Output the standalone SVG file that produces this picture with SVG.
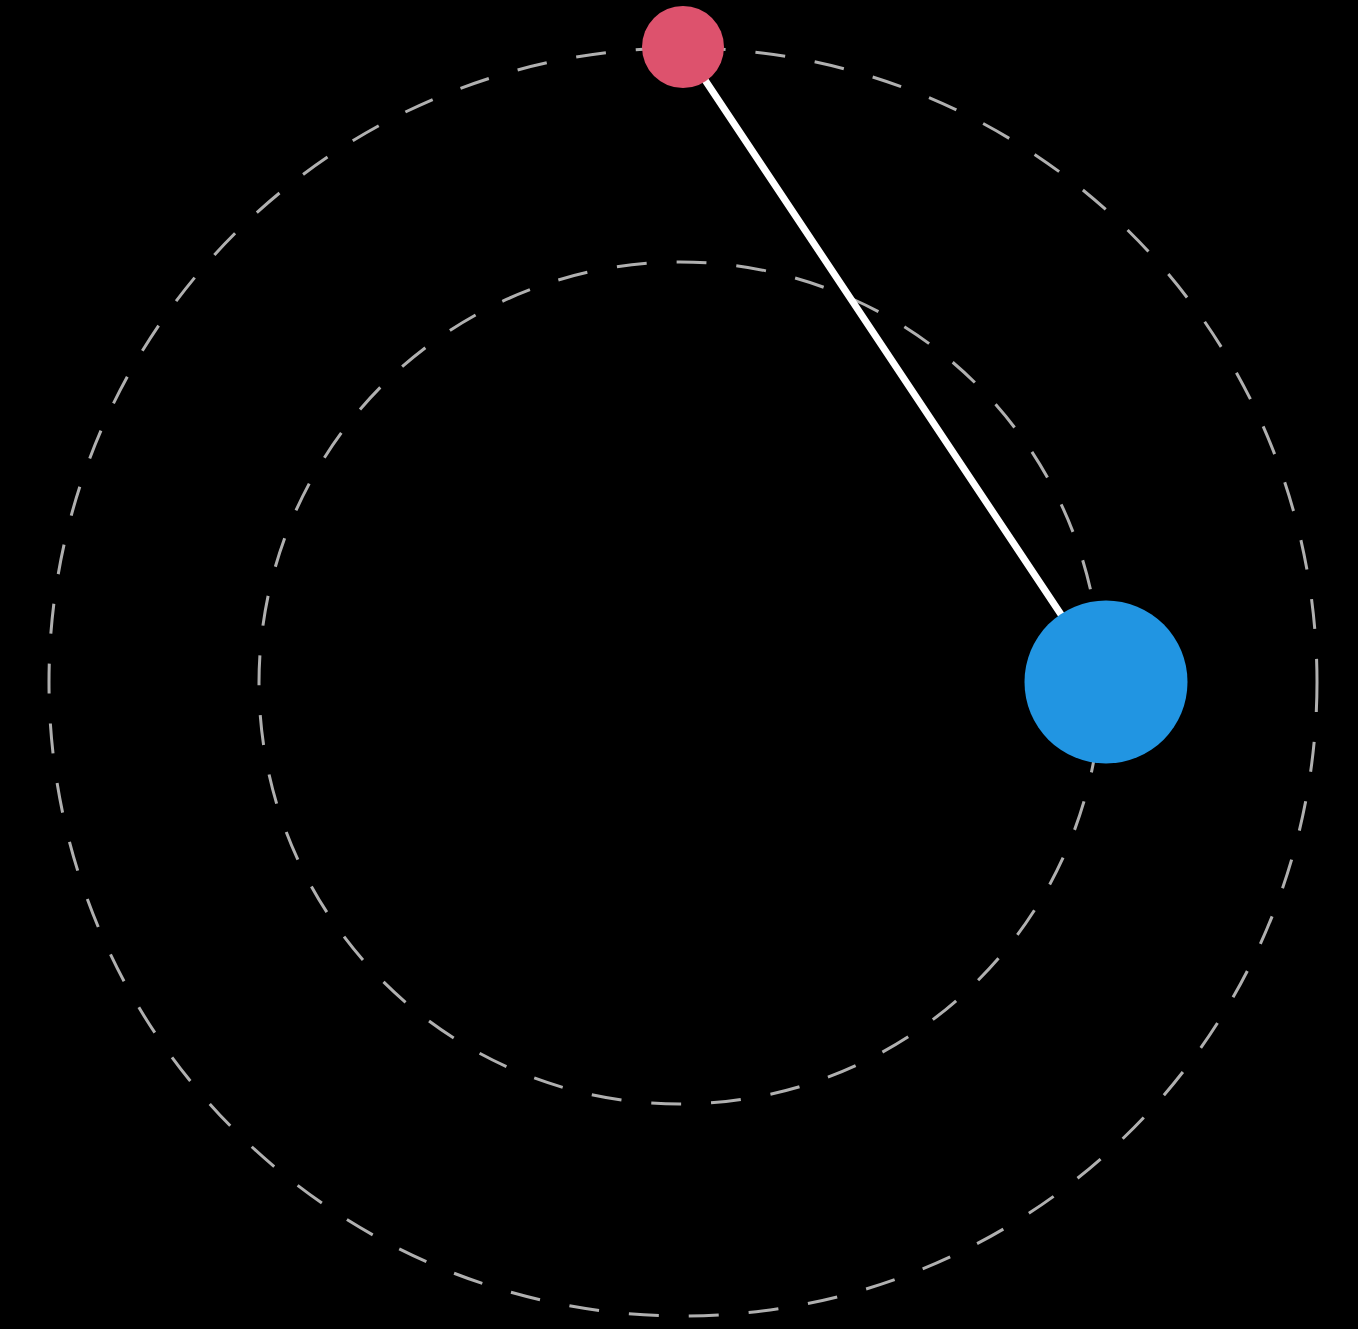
<svg xmlns="http://www.w3.org/2000/svg" width="1358" height="1329" viewBox="0 0 1358 1329">
<style>
.orbit{fill:none;stroke:#b0b0b0;stroke-width:3;stroke-dasharray:30 30}
.link{stroke:#ffffff;stroke-width:7;stroke-linecap:round}
</style>
<rect width="1358" height="1329" fill="#000"/>
<g id="orbits">
<circle class="orbit" cx="683" cy="682" r="634"/>
<circle class="orbit" cx="680" cy="683" r="421"/>
</g>
<g id="connectors">
<line class="link" x1="683" y1="47" x2="1106" y2="682"/>
</g>
<g id="node-red"><circle cx="683" cy="47" r="41" fill="#dd526d"/></g>
<g id="node-blue"><circle cx="1106" cy="682" r="81.5" fill="#2195e2"/></g>
</svg>
